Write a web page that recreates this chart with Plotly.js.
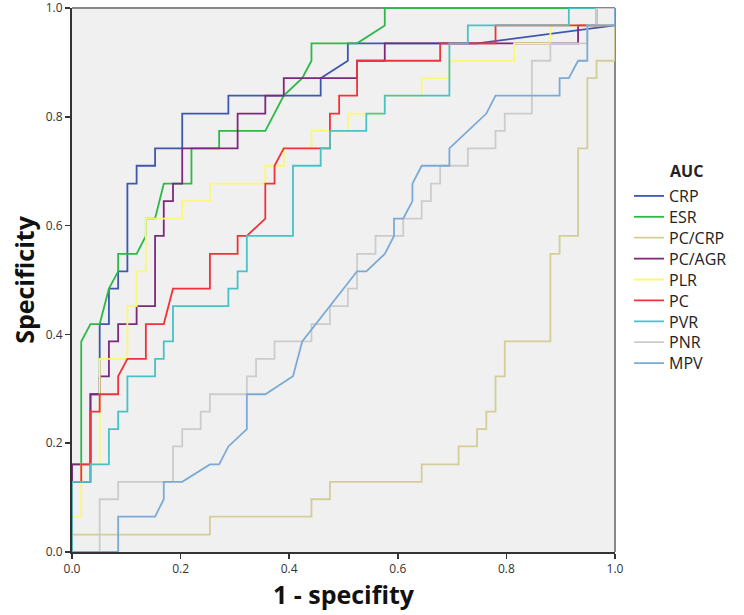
<!DOCTYPE html>
<html><head><meta charset="utf-8">
<script src="https://cdn.plot.ly/plotly-3.0.1.min.js"></script>
<style>html,body{margin:0;padding:0;background:#fff}#chart{width:744px;height:615px}</style>
</head><body><div id="chart"></div>
<script>
const seriesNames = ["CRP","ESR","PC/CRP","PC/AGR","PLR","PC","PVR","PNR","MPV"];
const seriesColors = ["#3E58AC","#2EB848","#D3CE97","#7C287D","#FBF873","#EF3338","#48C2C5","#CCCCCC","#7AAAD5"];
const tickVals = [0,0.2,0.4,0.6,0.8,1.0];
const tickText = ["0.0","0.2","0.4","0.6","0.8","1.0"];

const crpX = [0,0,0.034,0.034,0.051,0.051,0.068,0.068,0.085,0.085,0.102,0.102,0.119,0.119,0.153,0.153,0.203,0.203,0.288,0.288,0.458,0.458,0.508,0.508,0.746,1,1];
const crpY = [0,0.129,0.129,0.290,0.290,0.419,0.419,0.484,0.484,0.516,0.516,0.677,0.677,0.710,0.710,0.742,0.742,0.806,0.806,0.839,0.839,0.871,0.903,0.935,0.935,0.968,1];

const esrX = [0,0,0.017,0.017,0.034,0.051,0.068,0.085,0.085,0.119,0.136,0.136,0.153,0.169,0.220,0.220,0.271,0.271,0.356,0.390,0.424,0.441,0.441,0.525,0.576,0.576,1];
const esrY = [0,0.161,0.161,0.387,0.419,0.419,0.484,0.516,0.548,0.548,0.581,0.613,0.613,0.677,0.677,0.742,0.742,0.774,0.774,0.839,0.871,0.903,0.935,0.935,0.968,1,1];

const pccrpX = [0,0,0.254,0.254,0.441,0.441,0.475,0.475,0.644,0.644,0.712,0.712,0.746,0.746,0.763,0.763,0.780,0.780,0.797,0.797,0.881,0.881,0.898,0.898,0.932,0.932,0.949,0.949,0.966,0.966,1,1];
const pccrpY = [0,0.032,0.032,0.065,0.065,0.097,0.097,0.129,0.129,0.161,0.161,0.194,0.194,0.226,0.226,0.258,0.258,0.323,0.323,0.387,0.387,0.548,0.548,0.581,0.581,0.742,0.742,0.871,0.871,0.903,0.903,1];

const pcagrX = [0,0,0.017,0.034,0.034,0.051,0.051,0.068,0.068,0.085,0.085,0.119,0.119,0.153,0.153,0.169,0.169,0.186,0.186,0.203,0.203,0.305,0.305,0.356,0.356,0.390,0.390,0.525,0.525,0.576,0.576,0.932,0.932,1,1];
const pcagrY = [0,0.161,0.161,0.161,0.290,0.290,0.323,0.323,0.387,0.387,0.419,0.419,0.452,0.452,0.581,0.581,0.645,0.645,0.677,0.677,0.742,0.742,0.806,0.806,0.839,0.839,0.871,0.871,0.903,0.903,0.935,0.935,0.968,0.968,1];

const plrX = [0,0,0.017,0.017,0.051,0.051,0.102,0.102,0.119,0.119,0.136,0.136,0.203,0.203,0.254,0.254,0.356,0.356,0.390,0.390,0.441,0.441,0.508,0.508,0.576,0.576,0.644,0.644,0.695,0.695,0.814,0.814,0.881,0.881,1,1];
const plrY = [0,0.065,0.065,0.161,0.161,0.355,0.355,0.452,0.452,0.516,0.516,0.613,0.613,0.645,0.645,0.677,0.677,0.710,0.710,0.742,0.742,0.774,0.774,0.806,0.806,0.839,0.839,0.871,0.871,0.903,0.903,0.935,0.935,0.968,0.968,1];

const pcX = [0,0,0.017,0.017,0.034,0.034,0.051,0.051,0.085,0.085,0.102,0.136,0.136,0.169,0.186,0.254,0.254,0.305,0.305,0.322,0.356,0.356,0.373,0.373,0.390,0.475,0.475,0.492,0.492,0.525,0.525,0.678,0.678,0.780,0.780,0.966,0.966,1];
const pcY = [0,0.129,0.129,0.161,0.161,0.258,0.258,0.290,0.290,0.323,0.355,0.355,0.419,0.419,0.484,0.484,0.548,0.548,0.581,0.581,0.613,0.677,0.677,0.710,0.742,0.742,0.806,0.806,0.839,0.839,0.903,0.903,0.935,0.935,0.968,0.968,1,1];

const pvrX = [0,0,0.034,0.034,0.068,0.068,0.085,0.085,0.102,0.102,0.153,0.153,0.169,0.169,0.186,0.186,0.288,0.288,0.305,0.305,0.322,0.322,0.407,0.407,0.458,0.458,0.475,0.475,0.542,0.542,0.576,0.576,0.695,0.695,0.729,0.729,0.915,0.915,1];
const pvrY = [0,0.129,0.129,0.161,0.161,0.226,0.226,0.258,0.258,0.323,0.323,0.355,0.355,0.387,0.387,0.452,0.452,0.484,0.484,0.516,0.516,0.581,0.581,0.710,0.710,0.742,0.742,0.774,0.774,0.806,0.806,0.839,0.839,0.935,0.935,0.968,0.968,1,1];

const pnrX = [0,0.051,0.051,0.085,0.085,0.186,0.186,0.203,0.203,0.237,0.237,0.254,0.254,0.322,0.322,0.339,0.339,0.373,0.373,0.441,0.441,0.475,0.475,0.508,0.508,0.525,0.525,0.559,0.559,0.610,0.610,0.644,0.644,0.661,0.661,0.678,0.678,0.729,0.729,0.780,0.780,0.797,0.797,0.847,0.847,0.881,0.881,0.949,0.949,0.966,0.966,1];
const pnrY = [0,0,0.097,0.097,0.129,0.129,0.194,0.194,0.226,0.226,0.258,0.258,0.290,0.290,0.323,0.323,0.355,0.355,0.387,0.387,0.419,0.419,0.452,0.452,0.484,0.484,0.548,0.548,0.581,0.581,0.613,0.613,0.645,0.645,0.677,0.677,0.710,0.710,0.742,0.742,0.774,0.774,0.806,0.806,0.903,0.903,0.935,0.935,0.968,0.968,1,1];

const mpvX = [0,0.085,0.085,0.153,0.169,0.169,0.203,0.254,0.271,0.288,0.322,0.322,0.356,0.407,0.424,0.525,0.542,0.576,0.593,0.593,0.610,0.627,0.627,0.644,0.695,0.695,0.763,0.780,0.898,0.898,0.915,0.932,0.949,0.949,1,1];
const mpvY = [0,0,0.065,0.065,0.097,0.129,0.129,0.161,0.161,0.194,0.226,0.290,0.290,0.323,0.387,0.516,0.516,0.548,0.581,0.613,0.613,0.645,0.677,0.710,0.710,0.742,0.806,0.839,0.839,0.871,0.871,0.903,0.903,0.968,0.968,1];

const allX = [crpX,esrX,pccrpX,pcagrX,plrX,pcX,pvrX,pnrX,mpvX];
const allY = [crpY,esrY,pccrpY,pcagrY,plrY,pcY,pvrY,pnrY,mpvY];

const FONT = '"Open Sans", "Noto Sans", sans-serif';
const legendIds = seriesNames.map((n,i)=> i===0 ? 'legend' : 'legend'+(i+1));

const traces = seriesNames.map((n,i)=>({
  x: allX[i], y: allY[i], name: n, type:'scatter', mode:'lines',
  legend: legendIds[i],
  line:{color: seriesColors[i], width:1.8}
}));

const layout = {
  width:744, height:615,
  margin:{l:72, r:129, t:8, b:63},
  paper_bgcolor:'#ffffff', plot_bgcolor:'#f0f0f0',
  font:{family:FONT, color:'#222'},
  showlegend:true,
  xaxis:{range:[0,1], tickvals:tickVals, ticktext:tickText, ticks:'outside', ticklen:5, tickcolor:'#333', tickwidth:1.5,
    showline:true, linecolor:'#333', linewidth:2, showgrid:false, zeroline:false, fixedrange:true, ticklabeloverflow:'allow',
    tickfont:{size:12, color:'#333', family:FONT},
    title:{text:'1 - specifity', font:{size:25, family:FONT, color:'#111', weight:'bold'}, standoff:10}},
  yaxis:{range:[0,1], tickvals:tickVals, ticktext:tickText, ticks:'outside', ticklen:5, tickcolor:'#333', tickwidth:1.5,
    showline:true, linecolor:'#333', linewidth:2, showgrid:false, zeroline:false, fixedrange:true, ticklabeloverflow:'allow',
    tickfont:{size:12, color:'#333', family:FONT},
    title:{text:'Specificity', font:{size:25, family:FONT, color:'#111', weight:'bold'}, standoff:4}},
  shapes:[
    {type:'line', layer:'below', xref:'paper', yref:'paper', x0:0, x1:1, y0:1, y1:1, line:{color:'#888', width:2}},
    {type:'line', layer:'below', xref:'paper', yref:'paper', x0:1, x1:1, y0:0, y1:1, line:{color:'#888', width:2}}
  ],
  annotations:[
    {text:'<b>AUC</b>', xref:'paper', yref:'paper', x:1.097, y:0.7, xanchor:'left', yanchor:'middle', showarrow:false, font:{size:16, family:FONT, color:'#222'}}
  ]
};
// one legend box per entry so the entries keep the reference's tight spacing
const plotTop = 8, plotBottom = 552, firstItemPx = 196, itemStepPx = 20.9;
legendIds.forEach((id,i)=>{
  const py = firstItemPx + i*itemStepPx;
  layout[id] = {x:1.0258, xanchor:'left', y:(plotBottom-py)/(plotBottom-plotTop), yanchor:'middle',
    font:{size:16, family:FONT, color:'#222'}, bgcolor:'rgba(0,0,0,0)', borderwidth:0};
});
Plotly.newPlot('chart', traces, layout, {displayModeBar:false, staticPlot:true});
</script>
</body></html>
